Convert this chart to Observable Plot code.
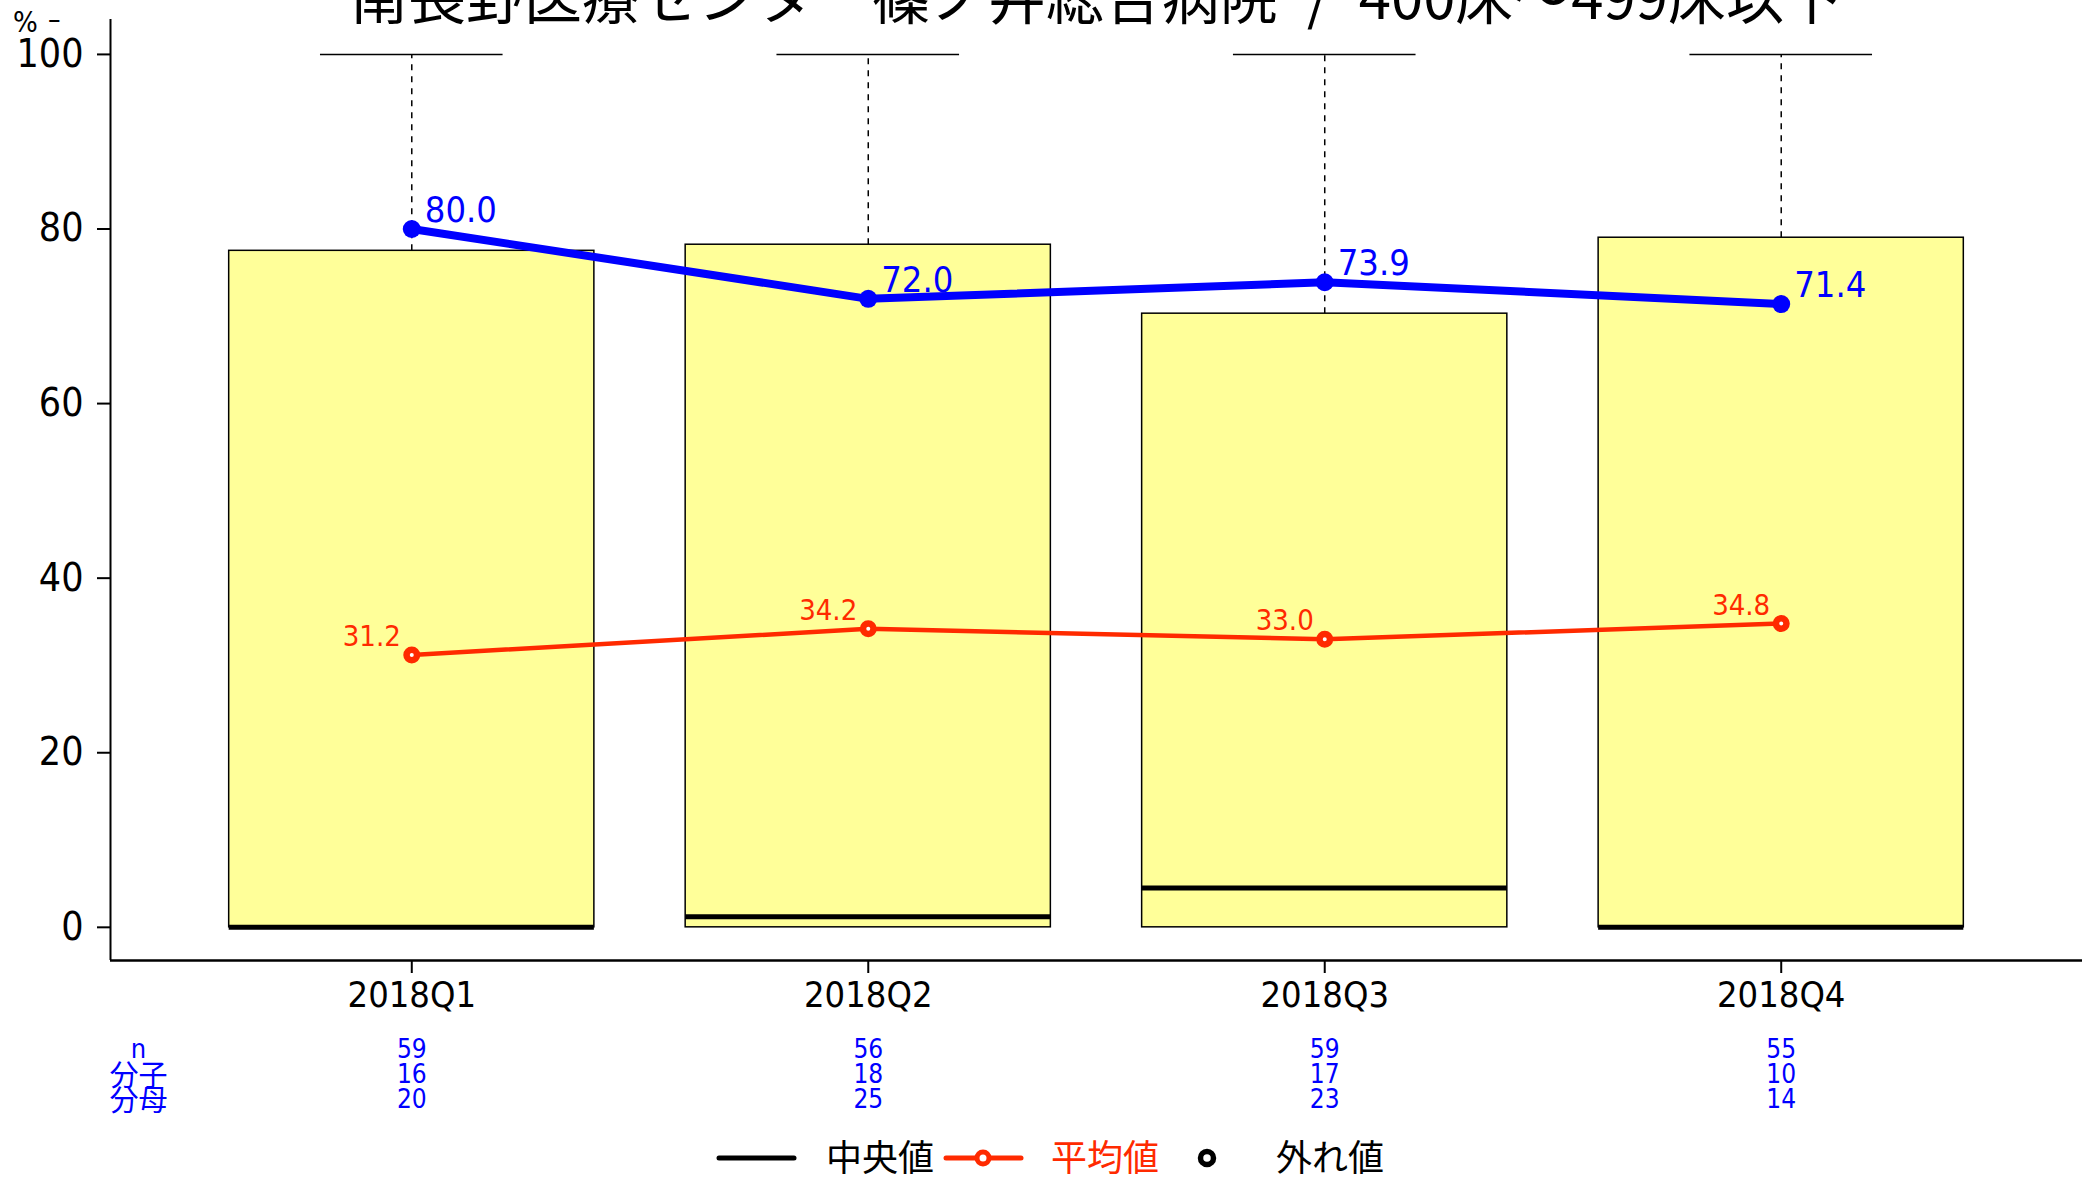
<!DOCTYPE html>
<html>
<head>
<meta charset="utf-8">
<script src="https://cdn.jsdelivr.net/npm/d3@7"></script>
<script src="https://cdn.jsdelivr.net/npm/@observablehq/plot@0.6"></script>
<style>
  html, body { margin: 0; padding: 0; background: #fff; }
  #wrap { position: relative; width: 2089px; height: 1180px; overflow: hidden; background: #fff; }
  #title { position: absolute; left: 110px; top: -35px; width: 1972px; text-align: center;
           font-family: "Noto Sans CJK JP"; font-size: 58px; line-height: 1; white-space: pre; color: #000; }
  .ylab { position: absolute; font-family: "DejaVu Sans Condensed", "DejaVu Sans"; line-height: 1; }
  #chart { position: absolute; left: 0; top: 0; }
  #legend { position: absolute; left: 0; top: 1120px; }
  svg text { font-stretch: condensed; }
  g[aria-label="mean-labels"] text { letter-spacing: 3px; }
</style>
</head>
<body>
<div id="wrap">
  <div id="chart"></div>
  <div id="title"></div>
  <div class="ylab" style="left:13px; top:8px; font-size:29px">%</div>
  <div class="ylab" style="left:48px; top:6px; font-size:28px">–</div>
  <div id="legend"></div>
</div>
<script>
// ---- data ----
const titleText = "南長野医療センター篠ノ井総合病院\u2002/\u2002400床～499床以下";
const categories = ["2018Q1", "2018Q2", "2018Q3", "2018Q4"];
const boxLower = [0, 0, 0, 0];
const boxUpper = [77.5, 78.2, 70.3, 79.0];
const medians = [0, 1.2, 4.5, 0];
const whiskerUpper = [100, 100, 100, 100];
const hospitalValues = [80.0, 72.0, 73.9, 71.4];
const meanValues = [31.2, 34.2, 33.0, 34.8];
const nValues = [59, 56, 59, 55];
const numerators = [16, 18, 17, 10];
const denominators = [20, 25, 23, 14];
const rowLabels = ["n", "分子", "分母"];
const yTicks = [0, 20, 40, 60, 80, 100];
const legendLabels = ["中央値", "平均値", "外れ値"];

// ---- build ----
const rows = categories.map((c, k) => ({
  i: k + 1, cat: c, lo: boxLower[k], hi: boxUpper[k], med: medians[k], wt: whiskerUpper[k],
  hosp: hospitalValues[k], mean: meanValues[k], n: nValues[k], num: numerators[k], den: denominators[k]
}));
const xDomain = [0.34, 4.66];
const yDomain = [-3.8, 104];
const BOX = 0.4, CAP = 0.2;
const RED = "#FF2A00", BLUE = "#0000FF", FILL = "#FFFF99";
const SANS = "DejaVu Sans Condensed, DejaVu Sans, sans-serif";
const rowDy = [97, 122, 147];
const tableCols = ["n", "num", "den"];

document.getElementById("title").textContent = titleText;

const tableMarks = [];
tableCols.forEach((col, r) => {
  tableMarks.push(Plot.text(rows, {x: "i", text: d => String(d[col]), frameAnchor: "bottom", lineAnchor: "bottom",
    dy: rowDy[r], fill: BLUE, fontSize: 26, fontFamily: SANS}));
  tableMarks.push(Plot.text([rowLabels[r]], {text: d => d, frameAnchor: "bottom-left", lineAnchor: "bottom",
    textAnchor: "middle", dx: 28, dy: rowDy[r] + (r === 0 ? 0 : 3), fill: BLUE, fontSize: r === 0 ? 27 : 29,
    fontFamily: r === 0 ? SANS : "Noto Sans CJK JP"}));
});

const chart = Plot.plot({
  width: 2089, height: 1120,
  marginTop: 19, marginBottom: 160, marginLeft: 110, marginRight: 7,
  x: {domain: xDomain, axis: null},
  y: {domain: yDomain, axis: null},
  style: {fontFamily: SANS, background: "transparent", overflow: "visible", color: "black"},
  marks: [
    Plot.ruleX(rows, {x: "i", y1: "hi", y2: "wt", stroke: "black", strokeWidth: 1.5, strokeDasharray: "6,6"}),
    Plot.ruleY(rows, {y: "wt", x1: d => d.i - CAP, x2: d => d.i + CAP, stroke: "black", strokeWidth: 1.5}),
    Plot.rect(rows, {x1: d => d.i - BOX, x2: d => d.i + BOX, y1: "lo", y2: "hi", fill: FILL, stroke: "black", strokeWidth: 1.5}),
    Plot.ruleY(rows, {y: "med", x1: d => d.i - BOX, x2: d => d.i + BOX, stroke: "black", strokeWidth: 5}),
    Plot.line(rows, {x: "i", y: "mean", stroke: RED, strokeWidth: 4.5}),
    Plot.dot(rows, {x: "i", y: "mean", r: 5.25, fill: "white", stroke: RED, strokeWidth: 6.5}),
    Plot.text(rows, {x: "i", y: "mean", text: d => d.mean.toFixed(1), textAnchor: "end", lineAnchor: "bottom",
      dx: -11, dy: -9, fill: RED, fontSize: 29, ariaLabel: "mean-labels"}),
    Plot.line(rows, {x: "i", y: "hosp", stroke: BLUE, strokeWidth: 8}),
    Plot.dot(rows, {x: "i", y: "hosp", r: 9, fill: BLUE}),
    Plot.text(rows, {x: "i", y: "hosp", text: d => d.hosp.toFixed(1), textAnchor: "start", lineAnchor: "bottom",
      dx: 13, dy: -7, fill: BLUE, fontSize: 36, ariaLabel: "hospital-labels"}),
    Plot.ruleX([xDomain[0]], {stroke: "black", strokeWidth: 2}),
    Plot.ruleY([yDomain[0]], {stroke: "black", strokeWidth: 2.5}),
    Plot.axisY({ticks: yTicks, tickSize: 13, tickPadding: 14, fontSize: 39, strokeWidth: 2, label: null}),
    Plot.axisX({ticks: rows.map(d => d.i), tickFormat: i => categories[i - 1], tickSize: 13, tickPadding: 8,
      fontSize: 36, strokeWidth: 2, label: null}),
    ...tableMarks
  ]
});
document.getElementById("chart").appendChild(chart);

// ---- legend (below the plot SVG) ----
const cy = 38;
document.getElementById("legend").innerHTML = `
<svg width="2089" height="60" xmlns="http://www.w3.org/2000/svg" style="font-family:'Noto Sans CJK JP'">
  <line x1="719" x2="794" y1="${cy}" y2="${cy}" stroke="black" stroke-width="5" stroke-linecap="round"/>
  <text x="826" y="${cy}" dy="0.36em" font-size="36" fill="black">${legendLabels[0]}</text>
  <line x1="946" x2="1021" y1="${cy}" y2="${cy}" stroke="${RED}" stroke-width="5" stroke-linecap="round"/>
  <circle cx="983" cy="${cy}" r="6" fill="white" stroke="${RED}" stroke-width="5"/>
  <text x="1051" y="${cy}" dy="0.36em" font-size="36" fill="${RED}">${legendLabels[1]}</text>
  <circle cx="1207" cy="${cy}" r="6.5" fill="white" stroke="black" stroke-width="5.5"/>
  <text x="1276" y="${cy}" dy="0.36em" font-size="36" fill="black">${legendLabels[2]}</text>
</svg>`;
</script>
</body>
</html>
